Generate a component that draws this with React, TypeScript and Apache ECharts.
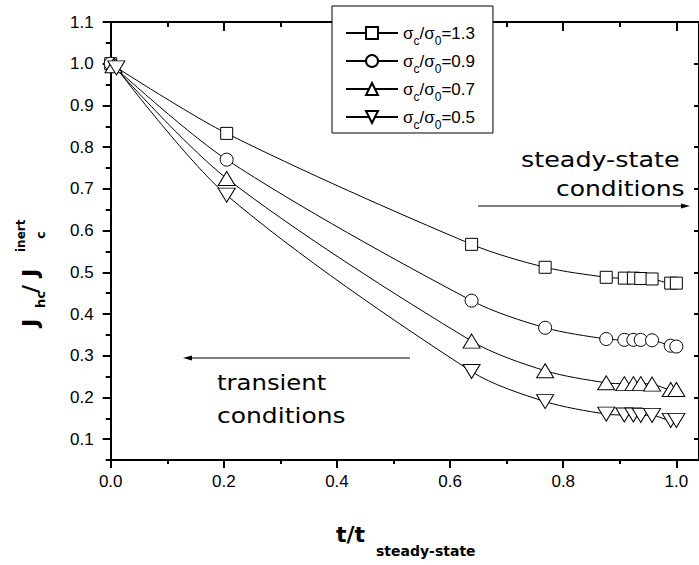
import React, { useEffect, useRef } from "react";
import * as echarts from "echarts";

// Stress ratio of each curve (legend reads σc/σ0 = ratio)
const ratios = ["1.3", "0.9", "0.7", "0.5"];

// Normalised time t / t_steady-state for each curve
const tSquare = [0, 0.205, 0.638, 0.768, 0.876, 0.908, 0.924, 0.937, 0.957, 0.99, 1.0];
const tCircle = [0, 0.205, 0.638, 0.768, 0.876, 0.908, 0.924, 0.937, 0.957, 0.99, 1.0];
const tUp = [0.005, 0.205, 0.638, 0.768, 0.876, 0.908, 0.924, 0.937, 0.957, 0.99, 1.0];
const tDown = [0.01, 0.205, 0.638, 0.768, 0.876, 0.908, 0.924, 0.937, 0.957, 0.99, 1.0];

// Normalised flux J_hc / J_c^inert
const jSquare = [1.0, 0.833, 0.567, 0.512, 0.488, 0.486, 0.486, 0.485, 0.484, 0.474, 0.474];
const jCircle = [1.0, 0.77, 0.432, 0.367, 0.34, 0.338, 0.338, 0.338, 0.337, 0.324, 0.322];
const jUp = [0.995, 0.725, 0.335, 0.264, 0.235, 0.233, 0.233, 0.233, 0.232, 0.219, 0.219];
const jDown = [0.99, 0.685, 0.262, 0.19, 0.16, 0.158, 0.158, 0.157, 0.157, 0.145, 0.145];

// Axis ticks
const xMajor = [0, 0.2, 0.4, 0.6, 0.8, 1.0];
const xMinor = [0.1, 0.3, 0.5, 0.7, 0.9];
const yMajor = [0.1, 0.2, 0.3, 0.4, 0.5, 0.6, 0.7, 0.8, 0.9, 1.0, 1.1];
const yMinor = [0.05, 0.15, 0.25, 0.35, 0.45, 0.55, 0.65, 0.75, 0.85, 0.95, 1.05];

const X_MIN = 0;
const X_MAX = 1.04;
const Y_MIN = 0.05;
const Y_MAX = 1.1;

const FONT = "'Liberation Sans', Arial, sans-serif";
const HAND = "'DejaVu Sans', sans-serif";

const curves = [
  { t: tSquare, j: jSquare, symbol: "rect", size: 12, rotate: 0 },
  { t: tCircle, j: jCircle, symbol: "circle", size: 13, rotate: 0 },
  { t: tUp, j: jUp, symbol: "triangle", size: [17, 14], rotate: 0 },
  { t: tDown, j: jDown, symbol: "triangle", size: [17, 14], rotate: 180 },
];

function xAxisDef(position: string, ticks: number[], len: number, inside: boolean, labels: boolean, line: boolean) {
  return {
    type: "value",
    position,
    min: X_MIN,
    max: X_MAX,
    splitLine: { show: false },
    axisLine: { show: line, onZero: false, lineStyle: { color: "#000", width: 2 } },
    axisTick: { show: true, inside, length: len, customValues: ticks, lineStyle: { color: "#000", width: 2 } },
    axisLabel: labels
      ? { show: true, customValues: ticks, margin: 13, color: "#000", fontSize: 17, fontFamily: FONT, formatter: (v: number) => v.toFixed(1) }
      : { show: false },
  };
}

function yAxisDef(position: string, ticks: number[], len: number, inside: boolean, labels: boolean, line: boolean) {
  return {
    type: "value",
    position,
    min: Y_MIN,
    max: Y_MAX,
    splitLine: { show: false },
    axisLine: { show: line, onZero: false, lineStyle: { color: "#000", width: 2 } },
    axisTick: { show: true, inside, length: len, customValues: ticks, lineStyle: { color: "#000", width: 2 } },
    axisLabel: labels
      ? { show: true, customValues: ticks, margin: 17, color: "#000", fontSize: 17, fontFamily: FONT, formatter: (v: number) => v.toFixed(1) }
      : { show: false },
  };
}

function txt(text: string, x: number, y: number, size: number, bold: boolean, family: string, scaleX = 1) {
  return {
    type: "text",
    x,
    y,
    scaleX,
    style: {
      text,
      fill: "#000",
      fontSize: size,
      fontWeight: bold ? "bold" : "normal",
      fontFamily: family,
      align: "left",
      textAlign: "left",
      verticalAlign: "middle",
      textVerticalAlign: "middle",
    },
  };
}

function arrow(x1: number, x2: number, y: number) {
  const dir = x2 > x1 ? 1 : -1;
  return [
    { type: "line", shape: { x1, y1: y, x2: x2 - dir * 6, y2: y }, style: { stroke: "#000", lineWidth: 1 } },
    {
      type: "polygon",
      shape: { points: [[x2, y], [x2 - dir * 9, y - 2.5], [x2 - dir * 9, y + 2.5]] },
      style: { fill: "#000" },
    },
  ];
}

export default function App() {
  const ref = useRef<HTMLDivElement>(null);

  useEffect(() => {
    if (!ref.current) return;
    const chart = echarts.init(ref.current, null, { renderer: "svg" });

    const series = curves.map((c, i) => ({
      name: `σc/σ0=${ratios[i]}`,
      type: "line",
      data: c.t.map((t, k) => [t, c.j[k]]),
      smooth: 0.3,
      symbol: c.symbol,
      symbolSize: c.size,
      symbolRotate: c.rotate,
      showAllSymbol: true,
      color: "#000",
      lineStyle: { color: "#000", width: 1 },
      itemStyle: { color: "#fff", borderColor: "#000", borderWidth: 1 },
      emphasis: { disabled: true },
      z: 3,
    }));

    chart.setOption({
      animation: false,
      backgroundColor: "#fff",
      grid: { left: 110.7, top: 22, width: 589.3, height: 438, containLabel: false },
      xAxis: [
        xAxisDef("bottom", xMajor, 8, false, true, true),
        xAxisDef("bottom", xMinor, 4, false, false, false),
        xAxisDef("top", xMajor, 9, true, false, true),
        xAxisDef("top", xMinor, 5, true, false, false),
      ],
      yAxis: [
        yAxisDef("left", yMajor, 8, false, true, true),
        yAxisDef("left", yMinor, 5, false, false, false),
        yAxisDef("right", yMajor, 5, true, false, true),
      ],
      legend: {
        orient: "vertical",
        left: 332,
        top: 6,
        backgroundColor: "#fff",
        borderColor: "#000",
        borderWidth: 1,
        borderRadius: 0,
        padding: [13, 18, 2, 13],
        itemWidth: 52,
        itemHeight: 15,
        itemGap: 0,
        selectedMode: false,
        textStyle: {
          color: "#000",
          fontFamily: FONT,
          fontSize: 17,
          rich: {
            m: { fontSize: 17, fontFamily: FONT, color: "#000", lineHeight: 28 },
            s: { fontSize: 12, fontFamily: FONT, color: "#000", lineHeight: 12, padding: [16, 0, 0, 0] },
          },
        },
        formatter: (name: string) => {
          const r = name.split("=")[1];
          return `{m|σ}{s|c}{m|/σ}{s|0}{m|=${r}}`;
        },
      },
      graphic: [
        // y-axis title, written bottom to top
        {
          type: "group",
          x: 30,
          y: 327,
          rotation: Math.PI / 2,
          children: [
            txt("J", 0, 0, 22, true, HAND),
            txt("hc", 19, 10.5, 13, true, HAND),
            txt("/", 34, 0, 22, true, HAND),
            txt("J", 50, 0, 22, true, HAND),
            txt("c", 88, 10.5, 13, true, HAND),
            txt("inert", 75, -9, 12, true, HAND),
          ],
        },
        // x-axis title
        txt("t/t", 336, 534, 22, true, HAND),
        txt("steady-state", 376, 551, 14, true, HAND),
        // regime annotations
        txt("steady-state", 521, 159, 21, false, HAND, 1.21),
        txt("conditions", 556, 189, 21, false, HAND, 1.19),
        ...arrow(478, 690, 206),
        txt("transient", 217, 383, 21, false, HAND, 1.16),
        txt("conditions", 217, 416, 21, false, HAND, 1.19),
        ...arrow(410, 183, 358),
      ],
      series,
    });

    return () => chart.dispose();
  }, []);

  return (
    <div
      ref={ref}
      style={{ position: "absolute", left: 0, top: 0, width: 699, height: 565, background: "#fff" }}
    />
  );
}
